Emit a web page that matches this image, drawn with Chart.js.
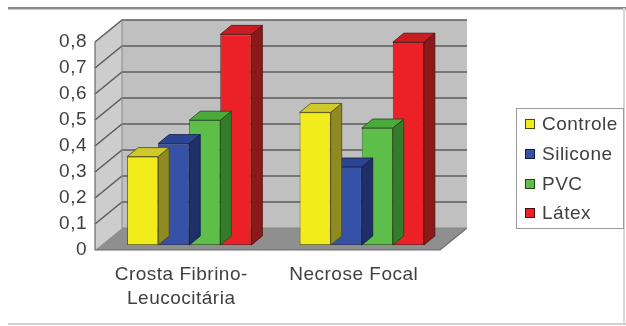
<!DOCTYPE html>
<html>
<head>
<meta charset="utf-8">
<script src="https://cdn.jsdelivr.net/npm/chart.js@4.4.1/dist/chart.umd.min.js"></script>
<style>
  html, body { margin: 0; padding: 0; background: #ffffff; }
  canvas { display: block; }
</style>
</head>
<body>
<canvas id="chart" width="626" height="326"></canvas>
<script>
// Categories (first label wraps onto two lines)
const categories = [["Crosta Fibrino-", "Leucocitária"], "Necrose Focal"];
const seriesNames = ["Controle", "Silicone", "PVC", "Látex"];

// Values per series, one per category
const controle = [0.34, 0.51];
const silicone = [0.39, 0.30];
const pvc      = [0.48, 0.45];
const latex    = [0.81, 0.78];

// Y axis ticks
const yTickValues = [0, 0.1, 0.2, 0.3, 0.4, 0.5, 0.6, 0.7, 0.8];
const yTickLabels = ["0", "0,1", "0,2", "0,3", "0,4", "0,5", "0,6", "0,7", "0,8"];

// Colours: front, top and side faces of each series
const palette = [
  { front: "#F3EC1C", top: "#CFC92A", side: "#8F8B22", edge: "#4a4710" },
  { front: "#3552A6", top: "#2C4592", side: "#1F2F68", edge: "#121c40" },
  { front: "#5DBE4A", top: "#4CA93B", side: "#347C2A", edge: "#1d4716" },
  { front: "#EC2128", top: "#C91D22", side: "#8A1A1A", edge: "#4d0c0c" }
];

const FONT = "'Liberation Sans', Arial, sans-serif";
const TEXT = "#404040";

// Oblique projection of the plot box
const wallDepth = { dx: 27, dy: -22 };
const barShift  = { dx: 8,  dy: -5 };
const barDepth  = { dx: 11, dy: -9 };

function poly(ctx, pts, fill, stroke, lw) {
  ctx.beginPath();
  ctx.moveTo(pts[0][0], pts[0][1]);
  for (let i = 1; i < pts.length; i++) ctx.lineTo(pts[i][0], pts[i][1]);
  ctx.closePath();
  if (fill) { ctx.fillStyle = fill; ctx.fill(); }
  if (stroke) { ctx.strokeStyle = stroke; ctx.lineWidth = lw || 1; ctx.stroke(); }
}

const scene3d = {
  id: "scene3d",
  beforeDraw(chart) {
    const ctx = chart.ctx;
    ctx.letterSpacing = "0.5px";
    // outer frame
    ctx.save();
    ctx.fillStyle = "#8a8a8a";
    ctx.fillRect(8, 7, 618, 2);
    ctx.fillStyle = "#c8c8c8";
    ctx.fillRect(8, 9, 618, 1);
    ctx.fillStyle = "#cfcfcf";
    ctx.fillRect(8, 323, 618, 2);
    ctx.fillStyle = "#d6d6d6";
    ctx.fillRect(623, 8, 2, 316);
    ctx.restore();
  },
  beforeDatasetsDraw(chart) {
    const ctx = chart.ctx;
    const a = chart.chartArea;
    const ys = chart.scales.y;
    const L = a.left, R = a.right, T = a.top, B = a.bottom;
    const dx = wallDepth.dx, dy = wallDepth.dy;
    ctx.save();
    ctx.letterSpacing = "0px";
    // left side wall
    poly(ctx, [[L, T], [L + dx, T + dy], [L + dx, B + dy], [L, B]], "#cdcdcd");
    // back wall
    poly(ctx, [[L + dx, T + dy], [R + dx, T + dy], [R + dx, B + dy], [L + dx, B + dy]], "#c0c0c0");
    // floor
    poly(ctx, [[L, B], [R, B], [R + dx, B + dy], [L + dx, B + dy]], "#8f8f8f");
    // grid lines on walls
    ctx.strokeStyle = "#5c5c5c";
    ctx.lineWidth = 1.5;
    yTickValues.forEach(v => {
      if (v === 0) return;
      const y = ys.getPixelForValue(v);
      ctx.beginPath();
      ctx.moveTo(L, y);
      ctx.lineTo(L + dx, y + dy);
      ctx.lineTo(R + dx, y + dy);
      ctx.stroke();
    });
    // edges
    ctx.strokeStyle = "#6a6a6a";
    ctx.lineWidth = 1.2;
    ctx.beginPath();
    ctx.moveTo(L, T); ctx.lineTo(L, B); ctx.lineTo(R, B); ctx.lineTo(R + dx, B + dy);
    ctx.stroke();
    ctx.strokeStyle = "#8a8a8a";
    ctx.lineWidth = 1;
    ctx.beginPath();
    ctx.moveTo(L + dx, B + dy); ctx.lineTo(L + dx, T + dy);
    ctx.moveTo(L + dx, B + dy); ctx.lineTo(R + dx, B + dy);
    ctx.stroke();
    ctx.restore();

    // bars stand slightly behind the front plane
    ctx.save();
    ctx.translate(barShift.dx, barShift.dy);
  },
  beforeDatasetDraw(chart, args) {
    const ctx = chart.ctx;
    const col = palette[args.index];
    const bdx = barDepth.dx, bdy = barDepth.dy;
    args.meta.data.forEach(bar => {
      const p = bar.getProps(["x", "y", "base", "width"], true);
      const l = p.x - p.width / 2, r = p.x + p.width / 2;
      const top = Math.min(p.y, p.base), base = Math.max(p.y, p.base);
      ctx.save();
      ctx.lineJoin = "round";
      poly(ctx, [[r, top], [r + bdx, top + bdy], [r + bdx, base + bdy], [r, base]], col.side, col.edge, 0.8);
      poly(ctx, [[l, top], [r, top], [r + bdx, top + bdy], [l + bdx, top + bdy]], col.top, col.edge, 0.8);
      ctx.restore();
    });
  },
  afterDatasetsDraw(chart) {
    chart.ctx.restore();
  },
  afterDraw(chart) {
    // legend box
    const ctx = chart.ctx;
    ctx.save();
    const bx = 516, by = 108, bw = 107, bh = 120;
    ctx.fillStyle = "#ffffff";
    ctx.fillRect(bx, by, bw, bh);
    ctx.strokeStyle = "#9a9a9a";
    ctx.lineWidth = 1;
    ctx.strokeRect(bx + 0.5, by + 0.5, bw, bh);
    const rowY = [124, 154, 184, 213];
    ctx.font = "19px " + FONT;
    ctx.letterSpacing = "0.5px";
    ctx.textBaseline = "middle";
    ctx.textAlign = "left";
    chart.data.datasets.forEach((ds, i) => {
      const y = rowY[i];
      ctx.fillStyle = palette[i].front;
      ctx.fillRect(525, y - 5, 10, 10);
      ctx.strokeStyle = palette[i].edge;
      ctx.strokeRect(525.5, y - 4.5, 9, 9);
      ctx.fillStyle = TEXT;
      ctx.fillText(ds.label, 542, y + 1);
    });
    ctx.restore();
  }
};

const seriesValues = [controle, silicone, pvc, latex];

new Chart(document.getElementById("chart"), {
  type: "bar",
  data: {
    labels: categories,
    datasets: seriesNames.map((name, i) => ({
      label: name,
      data: seriesValues[i],
      backgroundColor: palette[i].front,
      borderColor: palette[i].edge,
      borderWidth: 0.8,
      borderSkipped: false,
      categoryPercentage: 0.72,
      barPercentage: 1.0,
      clip: false
    }))
  },
  options: {
    responsive: false,
    devicePixelRatio: 1,
    animation: false,
    events: [],
    layout: { padding: { left: 55, right: 186, top: 42, bottom: 16 } },
    plugins: {
      legend: { display: false },
      tooltip: { enabled: false },
      title: { display: false }
    },
    scales: {
      x: {
        grid: { display: false, drawTicks: false },
        border: { display: false },
        ticks: {
          color: TEXT,
          font: { family: FONT, size: 19, lineHeight: 1.3 },
          padding: 12,
          maxRotation: 0,
          autoSkip: false
        },
        afterFit(scale) { scale.height = 60; }
      },
      y: {
        min: 0,
        max: 0.8,
        grid: { display: false, drawTicks: false },
        border: { display: false },
        afterBuildTicks(scale) {
          scale.ticks = yTickValues.map(v => ({ value: v }));
        },
        ticks: {
          color: TEXT,
          font: { family: FONT, size: 19 },
          padding: 8,
          callback: (value, index) => yTickLabels[index]
        },
        afterFit(scale) { scale.width = 40; }
      }
    }
  },
  plugins: [scene3d]
});
</script>
</body>
</html>
